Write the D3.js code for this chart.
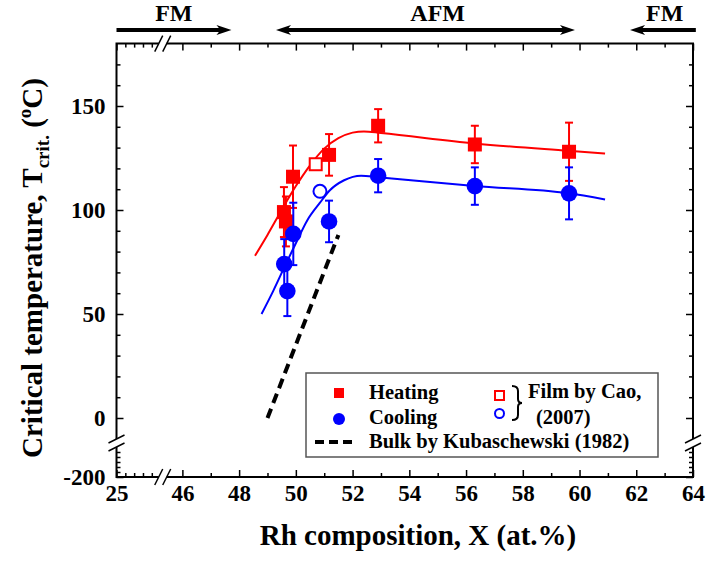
<!DOCTYPE html>
<html>
<head>
<meta charset="utf-8">
<script src="https://cdn.jsdelivr.net/npm/d3@7"></script>
<style>
  body { margin: 0; background: #fff; }
  svg text { font-family: 'Liberation Serif', 'Times New Roman', serif; font-weight: bold; fill: #000; }
</style>
</head>
<body>
<svg id="chart" width="708" height="561"></svg>
<script>
// Heating (filled squares), Rh at.% / Tcrit / error
const heatX = [49.58, 49.65, 49.9, 51.17, 52.9, 56.31, 59.63];
const heatY = [99, 94.5, 116, 126.5, 140.5, 131.5, 128];
const heatErr = [12, 12, 15, 10, 8, 9, 14];

// Cooling (filled circles)
const coolX = [49.59, 49.7, 49.91, 51.17, 52.9, 56.31, 59.63];
const coolY = [74, 61, 88.5, 94.5, 116.5, 111.5, 108];
const coolErr = [12, 12, 15, 10, 8, 9, 12.5];

// Film by Cao (2007), open symbols
const filmHeat = [50.7, 122];
const filmCool = [50.85, 109];

// guide curves
const fitHeatX = [48.56, 49.0, 49.5, 50.0, 50.5, 51.0, 51.5, 52.0, 52.4, 53.0, 56.3, 59.6, 60.9];
const fitHeatY = [78, 88, 100, 111.5, 121.5, 129.5, 134.5, 137.2, 137.8, 137, 132, 128.5, 127.2];
const fitCoolX = [48.79, 49.2, 49.68, 50.0, 50.4, 50.85, 51.2, 51.7, 52.3, 52.9, 56.3, 59.6, 60.9];
const fitCoolY = [50, 61, 75, 84, 95, 103.5, 109.5, 114.3, 116.5, 115.8, 111.5, 108, 105.1];

// Bulk by Kubaschewski (1982)
const bulkX = [49.0, 51.5];
const bulkY = [0, 88];

// axis ticks
const xMajor = [25, 46, 48, 50, 52, 54, 56, 58, 60, 62, 64];
const xMinor = [26, 27, 28, 29, 47, 49, 51, 53, 55, 57, 59, 61, 63];
const yMajor = [-200, 0, 50, 100, 150];
const yMinor = [-190, -180, -170, -160, -150, 10, 20, 30, 40, 60, 70, 80, 90, 110, 120, 130, 140, 160, 170];

// phase regions on top
const phases = [
  {label: 'FM', from: 25, to: 47.73, dir: 'right', labelX: 45.7},
  {label: 'AFM', from: 49.3, to: 59.84, dir: 'both', labelX: 55},
  {label: 'FM', from: 61.78, to: 64.1, dir: 'left', labelX: 63}
];

const xBreak = 40;
const yBreak = -12;

// broken scales
const x = d3.scaleLinear()
  .domain([25, 29, 45.5, 64])
  .range([116.5, 151.8, 168.2, 693]);

const y = d3.scaleLinear()
  .domain([-200, -150, -15, 180])
  .range([477, 452, 449.2, 43.6]);

const svg = d3.select('#chart');

const pLeft = x(25), pRight = x(64), pTop = y(180), pBottom = y(-200);
const bx = x(xBreak), by = y(yBreak);

// frame with gaps at the breaks
const gap = 4;
const frame = svg.append('g')
  .attr('stroke', '#000')
  .attr('stroke-width', 2)
  .attr('fill', 'none');

frame.append('path').attr('d', `M${pLeft},${by + gap}V${pBottom}H${bx - gap}`);
frame.append('path').attr('d', `M${bx + gap},${pBottom}H${pRight}V${by + gap}`);
frame.append('path').attr('d', `M${pRight},${by - gap}V${pTop}H${bx + gap}`);
frame.append('path').attr('d', `M${bx - gap},${pTop}H${pLeft}V${by - gap}`);

// break marks
[[bx, pBottom], [bx, pTop]].forEach(([cx, cy]) => {
  [-gap, gap].forEach(o => {
    frame.append('line')
      .attr('x1', cx + o - 4).attr('y1', cy + 8)
      .attr('x2', cx + o + 4).attr('y2', cy - 8)
      .attr('stroke-width', 1.5);
  });
});
[[pLeft, by], [pRight, by]].forEach(([cx, cy]) => {
  [-gap, gap].forEach(o => {
    frame.append('line')
      .attr('x1', cx - 8).attr('y1', cy + o + 4)
      .attr('x2', cx + 8).attr('y2', cy + o - 4)
      .attr('stroke-width', 1.5);
  });
});

// axes
function styleAxis(g) {
  g.select('.domain').remove();
  g.selectAll('.tick line').attr('stroke', '#000').attr('stroke-width', 1.5);
  g.selectAll('.tick text').style('font-size', '23px');
}

const plain = d => String(d);

svg.append('g')
  .attr('transform', `translate(0,${pBottom})`)
  .call(d3.axisBottom(x).tickValues(xMajor).tickSize(-7).tickPadding(8).tickFormat(plain))
  .call(styleAxis);
svg.append('g')
  .attr('transform', `translate(0,${pBottom})`)
  .call(d3.axisBottom(x).tickValues(xMinor).tickSize(-4).tickFormat(''))
  .call(styleAxis);
svg.append('g')
  .attr('transform', `translate(0,${pTop})`)
  .call(d3.axisTop(x).tickValues(xMajor).tickSize(-7).tickFormat(''))
  .call(styleAxis);
svg.append('g')
  .attr('transform', `translate(0,${pTop})`)
  .call(d3.axisTop(x).tickValues(xMinor).tickSize(-4).tickFormat(''))
  .call(styleAxis);

svg.append('g')
  .attr('transform', `translate(${pLeft},0)`)
  .call(d3.axisLeft(y).tickValues(yMajor).tickSize(-7).tickPadding(11).tickFormat(plain))
  .call(styleAxis);
svg.append('g')
  .attr('transform', `translate(${pLeft},0)`)
  .call(d3.axisLeft(y).tickValues(yMinor).tickSize(-4).tickFormat(''))
  .call(styleAxis);
svg.append('g')
  .attr('transform', `translate(${pRight},0)`)
  .call(d3.axisRight(y).tickValues(yMajor).tickSize(-7).tickFormat(''))
  .call(styleAxis);
svg.append('g')
  .attr('transform', `translate(${pRight},0)`)
  .call(d3.axisRight(y).tickValues(yMinor).tickSize(-4).tickFormat(''))
  .call(styleAxis);

// axis titles
svg.append('text')
  .attr('x', 418).attr('y', 545)
  .attr('text-anchor', 'middle')
  .style('font-size', '29px')
  .text('Rh composition, X (at.%)');

const yTitle = svg.append('text')
  .attr('transform', 'translate(42,268) rotate(-90)')
  .attr('text-anchor', 'middle')
  .style('font-size', '29px');
yTitle.append('tspan').text('Critical temperature, T');
yTitle.append('tspan').attr('dy', 7).style('font-size', '19px').text('crit.');
yTitle.append('tspan').attr('dy', -7).text(' (');
yTitle.append('tspan').attr('dy', -11).style('font-size', '19px').text('o');
yTitle.append('tspan').attr('dy', 11).text('C)');

// phase arrows
const arrowY = 30;
const head = (tx, dir) => {
  const s = dir === 'right' ? -1 : 1;
  return `M${tx},${arrowY}L${tx + s * 15},${arrowY - 5}L${tx + s * 11},${arrowY}L${tx + s * 15},${arrowY + 5}Z`;
};
phases.forEach(p => {
  const x0 = x(p.from), x1 = x(p.to);
  svg.append('line')
    .attr('x1', p.dir === 'left' || p.dir === 'both' ? x0 + 10 : x0)
    .attr('x2', p.dir === 'right' || p.dir === 'both' ? x1 - 10 : x1)
    .attr('y1', arrowY).attr('y2', arrowY)
    .attr('stroke', '#000').attr('stroke-width', 4);
  if (p.dir === 'right' || p.dir === 'both') svg.append('path').attr('d', head(x1, 'right'));
  if (p.dir === 'left' || p.dir === 'both') svg.append('path').attr('d', head(x0, 'left'));
  svg.append('text')
    .attr('x', x(p.labelX)).attr('y', 21)
    .attr('text-anchor', 'middle')
    .style('font-size', '24px')
    .text(p.label);
});

// guide curves
const line = d3.line().x(d => x(d[0])).y(d => y(d[1])).curve(d3.curveMonotoneX);

svg.append('path')
  .attr('d', line(d3.zip(fitHeatX, fitHeatY)))
  .attr('fill', 'none').attr('stroke', '#ff0000').attr('stroke-width', 2);
svg.append('path')
  .attr('d', line(d3.zip(fitCoolX, fitCoolY)))
  .attr('fill', 'none').attr('stroke', '#0000ff').attr('stroke-width', 2);

svg.append('path')
  .attr('d', d3.line().x(d => x(d[0])).y(d => y(d[1]))(d3.zip(bulkX, bulkY)))
  .attr('fill', 'none').attr('stroke', '#000').attr('stroke-width', 4)
  .attr('stroke-dasharray', '10,6');

// error bars + markers
function errorBars(xs, ys, es, color) {
  const g = svg.append('g').attr('stroke', color).attr('stroke-width', 2);
  xs.forEach((v, i) => {
    const cx = x(v), y0 = y(ys[i] - es[i]), y1 = y(ys[i] + es[i]);
    g.append('line').attr('x1', cx).attr('x2', cx).attr('y1', y0).attr('y2', y1);
    g.append('line').attr('x1', cx - 4).attr('x2', cx + 4).attr('y1', y0).attr('y2', y0);
    g.append('line').attr('x1', cx - 4).attr('x2', cx + 4).attr('y1', y1).attr('y2', y1);
  });
}

errorBars(heatX, heatY, heatErr, '#ff0000');
svg.append('g').selectAll('rect')
  .data(d3.zip(heatX, heatY))
  .join('rect')
    .attr('x', d => x(d[0]) - 7).attr('y', d => y(d[1]) - 7)
    .attr('width', 14).attr('height', 14)
    .attr('fill', '#ff0000');

errorBars(coolX, coolY, coolErr, '#0000ff');
svg.append('g').selectAll('circle')
  .data(d3.zip(coolX, coolY))
  .join('circle')
    .attr('cx', d => x(d[0])).attr('cy', d => y(d[1]))
    .attr('r', 8.3)
    .attr('fill', '#0000ff');

svg.append('rect')
  .attr('x', x(filmHeat[0]) - 6).attr('y', y(filmHeat[1]) - 6)
  .attr('width', 12).attr('height', 12)
  .attr('fill', '#fff').attr('stroke', '#ff0000').attr('stroke-width', 2);
svg.append('circle')
  .attr('cx', x(filmCool[0])).attr('cy', y(filmCool[1]))
  .attr('r', 6.5)
  .attr('fill', '#fff').attr('stroke', '#0000ff').attr('stroke-width', 2);

// legend
const lg = svg.append('g');
lg.append('rect')
  .attr('x', 306).attr('y', 373).attr('width', 352).attr('height', 84)
  .attr('fill', '#fff').attr('stroke', '#555').attr('stroke-width', 1.5);
lg.append('rect').attr('x', 334).attr('y', 388).attr('width', 10).attr('height', 10).attr('fill', '#ff0000');
lg.append('circle').attr('cx', 339).attr('cy', 419).attr('r', 6).attr('fill', '#0000ff');
lg.append('line')
  .attr('x1', 315).attr('x2', 356).attr('y1', 442).attr('y2', 442)
  .attr('stroke', '#000').attr('stroke-width', 4).attr('stroke-dasharray', '9,5');
lg.append('rect')
  .attr('x', 495).attr('y', 391).attr('width', 9).attr('height', 9)
  .attr('fill', 'none').attr('stroke', '#ff0000').attr('stroke-width', 2);
lg.append('circle')
  .attr('cx', 499.5).attr('cy', 413.5).attr('r', 4.5)
  .attr('fill', 'none').attr('stroke', '#0000ff').attr('stroke-width', 2);
lg.append('path')
  .attr('d', 'M512,386Q518,386 518,391V399Q518,403 522,403Q518,403 518,407V415Q518,420 512,420')
  .attr('fill', 'none').attr('stroke', '#000').attr('stroke-width', 2);

const legendText = [
  ['Heating', 369, 399],
  ['Cooling', 369, 424],
  ['Bulk by Kubaschewski (1982)', 369, 448],
  ['Film by Cao,', 528, 398],
  ['(2007)', 536, 424]
];
lg.selectAll('text.lab')
  .data(legendText)
  .join('text')
    .attr('class', 'lab')
    .attr('x', d => d[1]).attr('y', d => d[2])
    .style('font-size', '20.5px')
    .text(d => d[0]);
</script>
</body>
</html>
